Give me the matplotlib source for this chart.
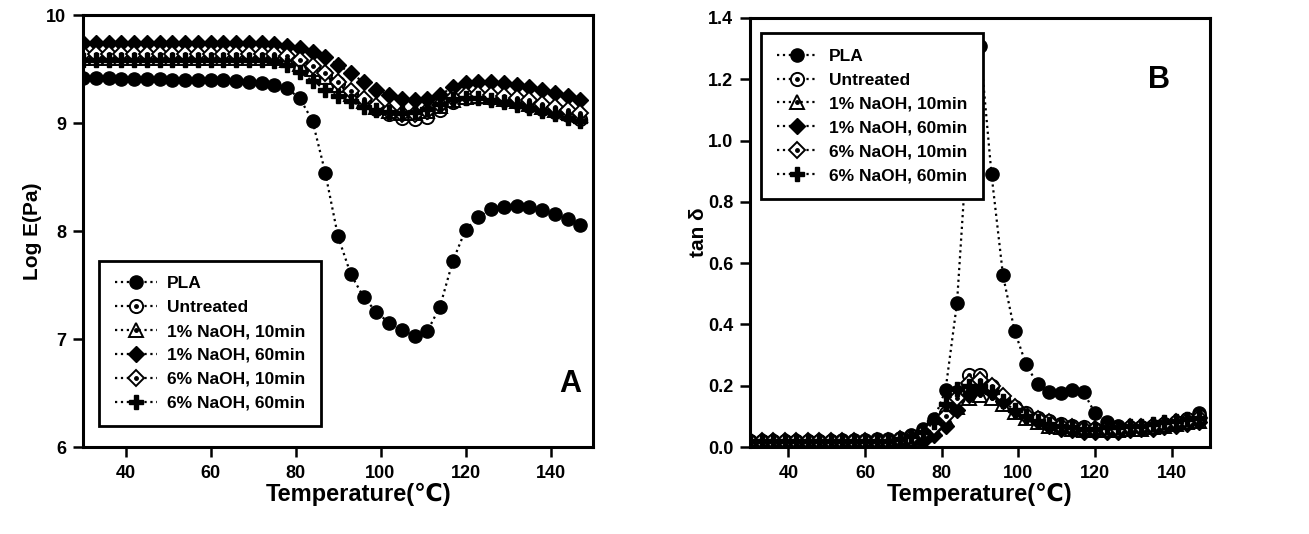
import matplotlib
matplotlib.use("Agg")
import matplotlib.pyplot as plt
from matplotlib.legend_handler import HandlerTuple

plt.rcParams['font.family'] = ['Liberation Sans', 'DejaVu Sans']
plt.rcParams['font.weight'] = 'bold'

temperature = [30, 33, 36, 39, 42, 45, 48, 51, 54, 57, 60, 63, 66, 69, 72, 75, 78, 81, 84, 87,
               90, 93, 96, 99, 102, 105, 108, 111, 114, 117, 120, 123, 126, 129, 132, 135, 138, 141, 144, 147]

labels = ["PLA", "Untreated", "1% NaOH, 10min", "1% NaOH, 60min", "6% NaOH, 10min", "6% NaOH, 60min"]

# Panel A: Log E (Pa)
logE_pla = [9.42, 9.42, 9.42, 9.41, 9.41, 9.41, 9.41, 9.40, 9.40, 9.40, 9.40, 9.40, 9.39, 9.38, 9.37, 9.35, 9.32, 9.23, 9.02, 8.54,
            7.95, 7.60, 7.39, 7.25, 7.15, 7.08, 7.03, 7.07, 7.30, 7.72, 8.01, 8.13, 8.20, 8.22, 8.23, 8.22, 8.19, 8.16, 8.11, 8.06]
logE_untreated = [9.62, 9.62, 9.62, 9.62, 9.62, 9.62, 9.62, 9.62, 9.61, 9.61, 9.61, 9.61, 9.61, 9.61, 9.60, 9.60, 9.59, 9.56, 9.51, 9.45,
                  9.37, 9.28, 9.20, 9.13, 9.08, 9.05, 9.04, 9.06, 9.12, 9.19, 9.23, 9.24, 9.23, 9.21, 9.19, 9.16, 9.13, 9.10, 9.07, 9.04]
logE_1_10 = [9.60, 9.60, 9.60, 9.60, 9.60, 9.60, 9.60, 9.60, 9.60, 9.60, 9.60, 9.60, 9.60, 9.60, 9.60, 9.60, 9.58, 9.55, 9.50, 9.43,
             9.35, 9.27, 9.20, 9.15, 9.11, 9.09, 9.09, 9.11, 9.16, 9.21, 9.24, 9.25, 9.24, 9.22, 9.20, 9.18, 9.15, 9.12, 9.10, 9.07]
logE_1_60 = [9.74, 9.74, 9.74, 9.74, 9.74, 9.74, 9.74, 9.74, 9.74, 9.74, 9.74, 9.74, 9.74, 9.74, 9.74, 9.73, 9.71, 9.69, 9.66, 9.61,
             9.54, 9.46, 9.38, 9.31, 9.26, 9.22, 9.21, 9.22, 9.26, 9.33, 9.37, 9.38, 9.38, 9.37, 9.35, 9.33, 9.31, 9.28, 9.25, 9.21]
logE_6_10 = [9.64, 9.64, 9.64, 9.64, 9.64, 9.64, 9.64, 9.64, 9.64, 9.64, 9.64, 9.64, 9.64, 9.64, 9.64, 9.64, 9.62, 9.58, 9.53, 9.46,
             9.38, 9.30, 9.22, 9.16, 9.11, 9.08, 9.08, 9.11, 9.17, 9.23, 9.26, 9.27, 9.26, 9.25, 9.23, 9.21, 9.18, 9.15, 9.12, 9.09]
logE_6_60 = [9.58, 9.58, 9.58, 9.58, 9.58, 9.58, 9.58, 9.58, 9.58, 9.58, 9.58, 9.58, 9.58, 9.58, 9.58, 9.57, 9.54, 9.47, 9.39, 9.31,
             9.25, 9.20, 9.15, 9.12, 9.10, 9.09, 9.10, 9.13, 9.18, 9.22, 9.23, 9.23, 9.21, 9.19, 9.17, 9.14, 9.11, 9.08, 9.05, 9.02]

# Panel B: tan delta
tan_pla = [0.020, 0.020, 0.020, 0.020, 0.020, 0.020, 0.020, 0.020, 0.022, 0.022, 0.024, 0.025, 0.027, 0.030, 0.040, 0.060, 0.090, 0.185, 0.470, 1.050,
           1.310, 0.890, 0.560, 0.380, 0.270, 0.205, 0.180, 0.175, 0.185, 0.180, 0.110, 0.080, 0.070, 0.065, 0.065, 0.070, 0.075, 0.080, 0.090, 0.110]
tan_untreated = [0.020, 0.020, 0.020, 0.020, 0.020, 0.020, 0.020, 0.020, 0.020, 0.020, 0.020, 0.020, 0.020, 0.025, 0.035, 0.050, 0.070, 0.110, 0.180, 0.235,
                 0.235, 0.200, 0.160, 0.130, 0.110, 0.095, 0.085, 0.075, 0.070, 0.065, 0.060, 0.060, 0.060, 0.060, 0.065, 0.070, 0.075, 0.080, 0.090, 0.100]
tan_1_10 = [0.015, 0.015, 0.015, 0.015, 0.015, 0.015, 0.015, 0.015, 0.015, 0.015, 0.015, 0.015, 0.015, 0.020, 0.030, 0.040, 0.060, 0.090, 0.130, 0.160,
            0.170, 0.160, 0.140, 0.115, 0.095, 0.080, 0.070, 0.065, 0.060, 0.055, 0.055, 0.055, 0.055, 0.060, 0.060, 0.065, 0.070, 0.075, 0.080, 0.085]
tan_1_60 = [0.015, 0.015, 0.015, 0.015, 0.015, 0.015, 0.015, 0.015, 0.015, 0.015, 0.015, 0.015, 0.015, 0.015, 0.020, 0.020, 0.040, 0.070, 0.120, 0.170,
            0.190, 0.180, 0.150, 0.120, 0.100, 0.085, 0.070, 0.060, 0.055, 0.050, 0.050, 0.050, 0.050, 0.055, 0.060, 0.060, 0.065, 0.070, 0.075, 0.080]
tan_6_10 = [0.020, 0.020, 0.020, 0.020, 0.020, 0.020, 0.020, 0.020, 0.020, 0.020, 0.020, 0.020, 0.020, 0.025, 0.030, 0.045, 0.065, 0.100, 0.160, 0.210,
            0.220, 0.200, 0.165, 0.130, 0.105, 0.090, 0.080, 0.070, 0.065, 0.060, 0.060, 0.060, 0.060, 0.065, 0.065, 0.070, 0.075, 0.080, 0.085, 0.095]
tan_6_60 = [0.020, 0.020, 0.020, 0.020, 0.020, 0.020, 0.020, 0.020, 0.020, 0.020, 0.020, 0.020, 0.020, 0.025, 0.035, 0.050, 0.080, 0.140, 0.190, 0.200,
            0.200, 0.180, 0.150, 0.120, 0.100, 0.085, 0.075, 0.070, 0.065, 0.060, 0.060, 0.065, 0.065, 0.070, 0.070, 0.075, 0.080, 0.085, 0.090, 0.095]

xticks = [40, 60, 80, 100, 120, 140]
yticks_A = [6, 7, 8, 9, 10]
yticks_B = [0.0, 0.2, 0.4, 0.6, 0.8, 1.0, 1.2, 1.4]

fig = plt.figure(figsize=(13.09, 5.34), dpi=100)
axA = fig.add_axes([83/1309, 87/534, 510/1309, 432/534])
axB = fig.add_axes([750/1309, 87/534, 460/1309, 429/534])

ms = 9.5
style = dict(color='black', linestyle=':', linewidth=1.6)


def draw(ax, series):
    handles = []
    (pla, unt, a110, a160, a610, a660) = series
    h0, = ax.plot(temperature, pla, marker='o', ms=ms, mfc='black', mec='black', **style)
    handles.append(h0)
    h1, = ax.plot(temperature, unt, marker='o', ms=ms, mfc='white', mec='black', mew=1.4, **style)
    d1, = ax.plot(temperature, unt, marker='o', ms=2.5, color='black', linestyle='none')
    handles.append((h1, d1))
    h2, = ax.plot(temperature, a110, marker='^', ms=ms, mfc='white', mec='black', mew=1.4, **style)
    d2, = ax.plot(temperature, a110, marker='o', ms=2.5, color='black', linestyle='none')
    handles.append((h2, d2))
    h3, = ax.plot(temperature, a160, marker='D', ms=ms - 1, mfc='black', mec='black', **style)
    handles.append(h3)
    h4, = ax.plot(temperature, a610, marker='D', ms=ms - 1, mfc='white', mec='black', mew=1.4, **style)
    d4, = ax.plot(temperature, a610, marker='o', ms=2.5, color='black', linestyle='none')
    handles.append((h4, d4))
    h5, = ax.plot(temperature, a660, marker='P', ms=ms, mfc='black', mec='black', **style)
    handles.append(h5)
    return handles


hA = draw(axA, (logE_pla, logE_untreated, logE_1_10, logE_1_60, logE_6_10, logE_6_60))
hB = draw(axB, (tan_pla, tan_untreated, tan_1_10, tan_1_60, tan_6_10, tan_6_60))

for ax in (axA, axB):
    ax.set_xlim(30, 150)
    ax.set_xticks(xticks)
    ax.set_xticklabels([str(t) for t in xticks])
    for sp in ax.spines.values():
        sp.set_linewidth(2.2)
    ax.tick_params(direction='out', length=7, width=1.8, labelsize=13, top=False, right=False, pad=5)
    ax.tick_params(axis='x', pad=6)
    ax.set_xlabel('Temperature(\u2103)', fontsize=17, fontweight='bold')

axA.xaxis.set_label_coords(0.54, -0.083)
axB.xaxis.set_label_coords(0.5, -0.084)

axA.set_ylim(6, 10)
axA.set_yticks(yticks_A)
axA.set_yticklabels([str(v) for v in yticks_A])
axA.set_ylabel('Log E(Pa)', fontsize=15, fontweight='bold', labelpad=3)

axB.set_ylim(0, 1.4)
axB.set_yticks(yticks_B)
axB.set_yticklabels([f"{v:.1f}" for v in yticks_B])
axB.set_ylabel('tan \u03b4', fontsize=15, fontweight='bold', labelpad=0)

for lab in axA.get_xticklabels() + axA.get_yticklabels() + axB.get_xticklabels() + axB.get_yticklabels():
    lab.set_fontweight('bold')

leg_kw = dict(handler_map={tuple: HandlerTuple(ndivide=1)}, fancybox=False, edgecolor='black',
              framealpha=1, prop={'weight': 'bold', 'size': 12.5}, handlelength=2.4,
              labelspacing=0.5, borderpad=0.9, handletextpad=0.6)
legA = axA.legend(hA, labels, loc='lower left', bbox_to_anchor=(0.015, 0.028), **leg_kw)
legA.get_frame().set_linewidth(2.0)
legB = axB.legend(hB, labels, loc='upper left', bbox_to_anchor=(0.005, 0.985), **leg_kw)
legB.get_frame().set_linewidth(2.0)

axA.text(0.955, 0.145, 'A', transform=axA.transAxes, fontsize=22, fontweight='bold', ha='center', va='center')
axB.text(0.89, 0.855, 'B', transform=axB.transAxes, fontsize=22, fontweight='bold', ha='center', va='center')

fig.savefig('out.png', dpi=100)
